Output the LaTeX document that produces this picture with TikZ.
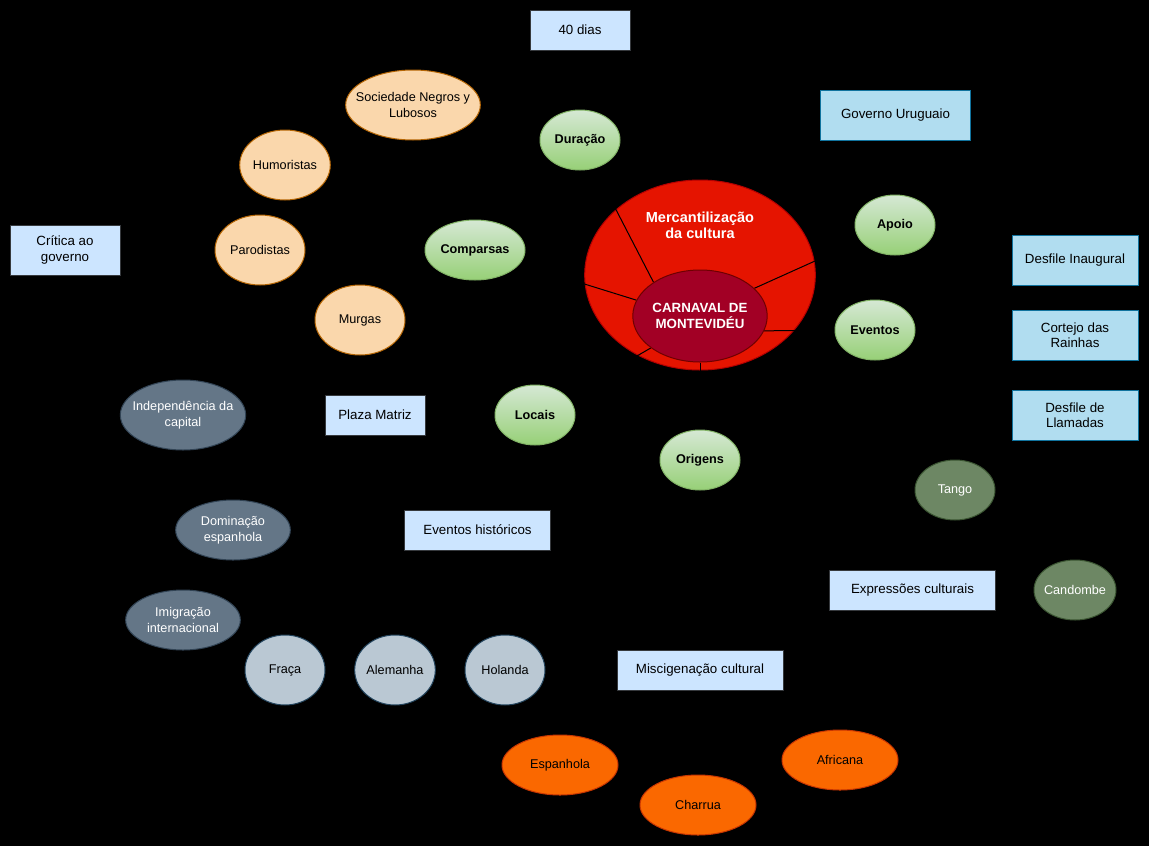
\documentclass[tikz,border=0pt]{standalone}
\usepackage{fontspec}
\setmainfont{Liberation Sans}
\usetikzlibrary{shapes.geometric}
\definecolor{BoxBlue}{HTML}{CCE5FF}
\definecolor{BoxLine}{HTML}{36393D}
\definecolor{SkyFill}{HTML}{B1DDF0}
\definecolor{SkyLine}{HTML}{10739E}
\definecolor{GreenTop}{HTML}{D5E8D4}
\definecolor{GreenBot}{HTML}{97D077}
\definecolor{GreenLine}{HTML}{82B366}
\definecolor{Peach}{HTML}{FAD7AC}
\definecolor{PeachLine}{HTML}{B46504}
\definecolor{Slate}{HTML}{647687}
\definecolor{SlateLine}{HTML}{314354}
\definecolor{Steel}{HTML}{BAC8D3}
\definecolor{SteelLine}{HTML}{23445D}
\definecolor{Orange}{HTML}{FA6800}
\definecolor{OrangeLine}{HTML}{C73500}
\definecolor{Olive}{HTML}{6D8764}
\definecolor{OliveLine}{HTML}{3A5431}
\definecolor{CarnRed}{HTML}{E51400}
\definecolor{CarnRedLine}{HTML}{B20000}
\definecolor{Wine}{HTML}{A20025}
\definecolor{WineLine}{HTML}{6F0000}
\pgfdeclarelayer{back}
\pgfdeclarelayer{mid}
\pgfsetlayers{back,mid,main}
\tikzset{
  lbox/.style={draw=BoxLine,fill=BoxBlue,line width=0.75pt,minimum height=30pt,inner sep=0pt,align=center,font=\fontsize{10}{11.5}\selectfont},
  sbox/.style={lbox,draw=SkyLine,fill=SkyFill,minimum width=94.5pt,minimum height=37.5pt},
  ell/.style={ellipse,line width=0.75pt,inner sep=0pt,align=center,font=\fontsize{9.5}{12}\selectfont},
  gell/.style={ell,draw=GreenLine,top color=GreenTop,bottom color=GreenBot,minimum width=60pt,minimum height=45pt,font=\fontsize{9.5}{12}\selectfont\bfseries},
  pell/.style={ell,draw=PeachLine,fill=Peach,minimum width=67.5pt,minimum height=52.5pt},
  slell/.style={ell,draw=SlateLine,fill=Slate,text=white,minimum width=86pt,minimum height=45pt},
  stell/.style={ell,draw=SteelLine,fill=Steel,minimum width=60pt,minimum height=52.5pt},
  oell/.style={ell,draw=OrangeLine,fill=Orange,minimum width=87pt,minimum height=45pt},
  olell/.style={ell,draw=OliveLine,fill=Olive,text=white,minimum width=60pt,minimum height=45pt,inner xsep=-1.5pt},
  conn/.style={draw=black,line width=0.75pt},
}
\begin{document}
\begin{tikzpicture}[x=0.75pt,y=-0.75pt]
  \useasboundingbox (0,0) rectangle (1149,846);
  \begin{pgfonlayer}{back}
    \fill[black] (0,0) rectangle (1149,846);
    \node[ell,draw=CarnRedLine,fill=CarnRed,minimum width=173pt,minimum height=142.5pt,
      label={[anchor=center,yshift=-34.5pt,text=white,align=center,font=\fontsize{10.9}{12}\selectfont\bfseries]north:{Mercantilização\\da cultura}}] (merc) at (700,275) {};
  \end{pgfonlayer}
  \node[ell,draw=WineLine,fill=Wine,text=white,minimum width=97.5pt,minimum height=69pt,font=\fontsize{10}{11.5}\selectfont\bfseries] (cmv) at (700,316) {CARNAVAL DE\\MONTEVIDÉU};

  \node[lbox,minimum width=75pt] (dias) at (580,30) {40 dias};
  \node[sbox,minimum width=113pt] (gov) at (895.5,115) {Governo Uruguaio};
  \node[lbox,minimum width=82.5pt,minimum height=37.5pt] (crit) at (65,250) {Crítica ao\\governo};
  \node[sbox] (dinaug) at (1075,260) {Desfile Inaugural};
  \node[sbox] (cortejo) at (1075,335.5) {Cortejo das\\Rainhas};
  \node[sbox] (llam) at (1075,415) {Desfile de\\Llamadas};
  \node[lbox,minimum width=75pt] (plaza) at (375,415) {Plaza Matriz};
  \node[lbox,minimum width=109pt] (evhist) at (477.5,530) {Eventos históricos};
  \node[lbox,minimum width=124pt] (expr) at (912.5,590) {Expressões culturais};
  \node[lbox,minimum width=124.5pt] (misc) at (700,670) {Miscigenação cultural};

  \node[gell] (dur) at (580,140) {Duração};
  \node[gell] (apoio) at (895,225) {Apoio};
  \node[gell] (ev) at (875,330) {Eventos};
  \node[gell,minimum width=75pt] (comp) at (475,250) {Comparsas};
  \node[gell] (loc) at (535,415) {Locais};
  \node[gell] (orig) at (700,460) {Origens};

  \node[pell,minimum width=101pt,inner xsep=-7.5pt] (soc) at (413,105) {Sociedade Negros y\\Lubosos};
  \node[pell] (hum) at (285,165) {Humoristas};
  \node[pell] (par) at (260,250) {Parodistas};
  \node[pell] (mur) at (360,320) {Murgas};

  \node[slell,minimum width=94pt,minimum height=52.5pt,inner xsep=-5pt] (indep) at (183,415) {Independência da\\capital};
  \node[slell] (dom) at (233,530) {Dominação\\espanhola};
  \node[slell] (imig) at (183,620) {Imigração\\internacional};

  \node[stell] (fra) at (285,670) {Fraça};
  \node[stell] (ale) at (395,670) {Alemanha};
  \node[stell] (hol) at (505,670) {Holanda};

  \node[oell] (esp) at (560,765) {Espanhola};
  \node[oell] (cha) at (698,805) {Charrua};
  \node[oell] (afr) at (840,760) {Africana};

  \node[olell] (tango) at (955,490) {Tango};
  \node[olell] (cand) at (1075,590) {Candombe};

  \begin{pgfonlayer}{mid}
    \draw[conn] (cmv.144)--(dur); \draw[conn] (cmv.166)--(comp); \draw[conn] (cmv.213)--(loc);
    \draw[conn] (cmv.270)--(orig); \draw[conn] (cmv.347)--(ev); \draw[conn] (cmv.27)--(apoio);
  \end{pgfonlayer}
\end{tikzpicture}
\end{document}
